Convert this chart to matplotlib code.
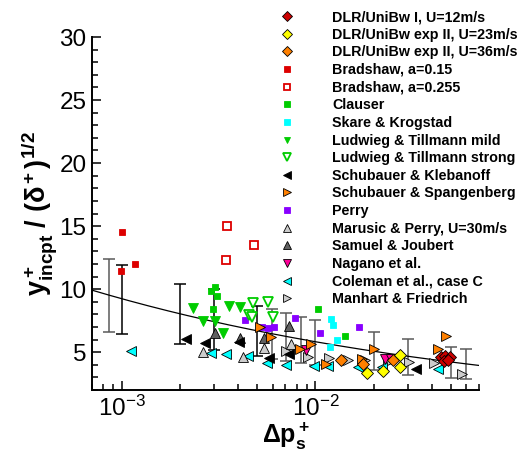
import numpy as np
import matplotlib.pyplot as plt

plt.rcParams['font.family'] = ['Liberation Sans', 'DejaVu Sans']
plt.rcParams['mathtext.fontset'] = 'custom'
plt.rcParams['mathtext.rm'] = 'Liberation Sans'
plt.rcParams['mathtext.it'] = 'Liberation Sans:italic'
plt.rcParams['mathtext.bf'] = 'Liberation Sans:bold'

# data sets (dp_s+, y+_incpt / sqrt(delta+))
dlr1_x = [4.46e-2, 4.68e-2, 4.93e-2, 4.60e-2, 4.83e-2]
dlr1_y = [4.58, 4.71, 4.58, 4.31, 4.37]
dlr23_x = [1.84e-2, 2.24e-2, 2.75e-2, 2.75e-2]
dlr23_y = [3.31, 3.52, 4.76, 3.83]
dlr36_x = [1.36e-2, 1.76e-2, 2.52e-2]
dlr36_y = [4.37, 4.05, 4.37]
brad15_x = [1.0e-3, 0.99e-3, 1.165e-3]
brad15_y = [14.5, 11.4, 11.96]
brad255_x = [3.48e-3, 3.43e-3, 4.80e-3]
brad255_y = [15.0, 12.3, 13.5]
clauser_x = [3.02e-3, 2.89e-3, 3.09e-3, 2.97e-3, 1.03e-2, 1.42e-2]
clauser_y = [10.16, 9.84, 9.42, 8.41, 8.39, 6.25]
skare_x = [1.21e-2, 1.23e-2, 1.29e-2, 1.19e-2]
skare_y = [7.62, 7.14, 5.93, 5.45]
lt_mild_x = [2.34e-3, 2.63e-3, 3.03e-3, 3.31e-3, 3.56e-3, 4.05e-3]
lt_mild_y = [8.47, 7.48, 7.48, 6.53, 8.63, 8.60]
lt_strong_x = [4.74e-3, 5.66e-3, 4.52e-3, 4.69e-3, 6.01e-3]
lt_strong_y = [8.89, 8.99, 7.94, 7.83, 7.83]
kleb_x = [2.15e-3, 2.67e-3, 4.01e-3, 5.78e-3, 7.28e-3, 3.31e-2]
kleb_y = [6.03, 5.71, 5.77, 4.50, 4.84, 3.65]
spang_x = [5.14e-3, 5.89e-3, 8.27e-3, 9.50e-3, 1.14e-2, 1.73e-2, 2.01e-2, 4.29e-2, 4.74e-2]
spang_y = [6.96, 6.19, 5.24, 5.63, 4.05, 4.44, 5.24, 5.29, 6.27]
perry_x = [4.33e-3, 5.30e-3, 5.67e-3, 6.07e-3, 7.83e-3, 1.06e-2, 1.67e-2]
perry_y = [7.54, 6.96, 6.88, 7.01, 7.75, 6.56, 6.98]
marusic_x = [2.63e-3, 4.21e-3, 5.41e-3, 7.49e-3]
marusic_y = [5.02, 4.60, 5.37, 5.66]
samuel_x = [3.01e-3, 4.08e-3, 5.45e-3, 7.28e-3]
samuel_y = [6.56, 6.15, 6.09, 7.06]
nagano_x = [8.95e-3, 2.28e-2, 2.47e-2]
nagano_y = [5.16, 4.44, 4.44]
coleman_x = [1.11e-3, 2.89e-3, 3.46e-3, 4.47e-3, 5.60e-3, 7.06e-3, 9.88e-3,
             1.158e-2, 1.663e-2, 2.22e-2, 4.29e-2]
coleman_y = [5.06, 4.92, 4.84, 4.71, 4.18, 3.99, 3.91, 3.87, 3.79, 3.79, 3.65]
manhart_x = [7.06e-3, 9.12e-3, 1.17e-2, 1.476e-2, 1.80e-2, 2.38e-2, 3.06e-2, 4.12e-2, 5.75e-2]
manhart_y = [5.08, 4.64, 4.50, 4.37, 4.37, 4.26, 4.21, 4.18, 3.25]

# uncertainty ranges
errb_x = [1.0e-3, 1.99e-3, 2.98e-3, 4.99e-3]
errb_lo = [6.45, 5.61, 5.16, 4.71]
errb_hi = [11.93, 10.40, 10.0, 8.67]
errg_x = [8.55e-4, 5.96e-3, 7.02e-3, 8.44e-3, 9.94e-3, 2.0e-2, 3.025e-2, 5.015e-2, 6.01e-2]
errg_lo = [6.64, 4.42, 4.29, 4.18, 3.97, 3.59, 3.21, 2.99, 2.91]
errg_hi = [12.36, 8.41, 8.12, 7.82, 7.54, 6.59, 6.03, 5.42, 5.24]

# power-law fit y = a * dp^b
fit_a = 2.32
fit_b = -0.2

x_min, x_max = 7e-4, 7e-2

fig = plt.figure(figsize=(5.21, 4.57), dpi=100)
ax = fig.add_axes([92 / 521, 67 / 457, 387 / 521, 353 / 457])


def draw_err(x, lo, hi, color):
    lo = np.array(lo)
    hi = np.array(hi)
    mid = (lo + hi) / 2
    ax.errorbar(x, mid, yerr=[mid - lo, hi - mid], fmt='none', ecolor=color,
                elinewidth=1.1, capsize=4.5, capthick=1.1, zorder=1)


draw_err(errg_x, errg_lo, errg_hi, '#5a5a5a')
draw_err(errb_x, errb_lo, errb_hi, 'black')

xs = np.logspace(np.log10(x_min), np.log10(x_max), 200)
ax.plot(xs, fit_a * xs ** fit_b, color='black', lw=0.9, zorder=2)

ek = 'black'
series = [
    (dlr1_x, dlr1_y, 'D', '#cc0000', ek, 6.5, 'DLR/UniBw I, U=12m/s'),
    (dlr23_x, dlr23_y, 'D', '#ffff00', ek, 6.5, 'DLR/UniBw exp II, U=23m/s'),
    (dlr36_x, dlr36_y, 'D', '#ff8000', ek, 6.5, 'DLR/UniBw exp II, U=36m/s'),
    (brad15_x, brad15_y, 's', '#dd0000', '#dd0000', 5, 'Bradshaw, a=0.15'),
    (brad255_x, brad255_y, 's', 'white', '#dd0000', 5.5, 'Bradshaw, a=0.255'),
    (clauser_x, clauser_y, 's', '#00cc00', '#00cc00', 5, 'Clauser'),
    (skare_x, skare_y, 's', '#00ffff', '#00ffff', 5, 'Skare & Krogstad'),
    (lt_mild_x, lt_mild_y, 'v', '#00cc00', '#00cc00', 6.5, 'Ludwieg & Tillmann mild'),
    (lt_strong_x, lt_strong_y, 'v', 'white', '#00cc00', 7, 'Ludwieg & Tillmann strong'),
    (kleb_x, kleb_y, '<', 'black', ek, 7, 'Schubauer & Klebanoff'),
    (spang_x, spang_y, '>', '#ff8000', ek, 7, 'Schubauer & Spangenberg'),
    (perry_x, perry_y, 's', '#8800ff', '#8800ff', 5, 'Perry'),
    (marusic_x, marusic_y, '^', '#cccccc', ek, 7, 'Marusic & Perry, U=30m/s'),
    (samuel_x, samuel_y, '^', '#606060', ek, 7, 'Samuel & Joubert'),
    (nagano_x, nagano_y, 'v', '#ff0099', ek, 7, 'Nagano et al.'),
    (coleman_x, coleman_y, '<', '#00ffff', ek, 7, 'Coleman et al., case C'),
    (manhart_x, manhart_y, '>', '#cccccc', ek, 7, 'Manhart & Friedrich'),
]

handles = []
n = len(series)
for i, (x, y, m, fc, ec, ms, lab) in enumerate(series):
    mew = 1.3 if fc == 'white' else 0.6
    h, = ax.plot(x, y, ls='none', marker=m, ms=ms, mfc=fc, mec=ec, mew=mew,
                 label=lab, zorder=3 + (n - i) * 0.01)
    handles.append(h)

ax.set_xscale('log')
ax.set_xlim(x_min, x_max)
ax.set_ylim(2, 30)
ax.set_yticks([5, 10, 15, 20, 25, 30])
ax.set_yticks(np.arange(2, 31, 1), minor=True)

for s in ['top', 'right']:
    ax.spines[s].set_visible(False)
for s in ['left', 'bottom']:
    ax.spines[s].set_linewidth(1.4)

ax.tick_params(which='both', direction='in', width=1.1, labelsize=17.5)
ax.tick_params(which='major', length=6.5, pad=4)
ax.tick_params(which='minor', length=4)

ax.set_xlabel(r'$\mathbf{\Delta p^+_s}$', fontsize=18, labelpad=0)
ax.set_ylabel(r'$\mathbf{y^+_{incpt}\ /\ (\delta^+)^{1/2}}$', fontsize=19.5, labelpad=0)

fig.legend(handles=handles, loc='upper left', bbox_to_anchor=(273 / 521, 1 - 10 / 457),
           frameon=False, numpoints=1, markerscale=0.75, handlelength=2.0,
           handletextpad=2.15, labelspacing=0.255, borderpad=0, borderaxespad=0,
           prop={'size': 10.3, 'weight': 'bold'})

fig.savefig('out.png', dpi=100)
